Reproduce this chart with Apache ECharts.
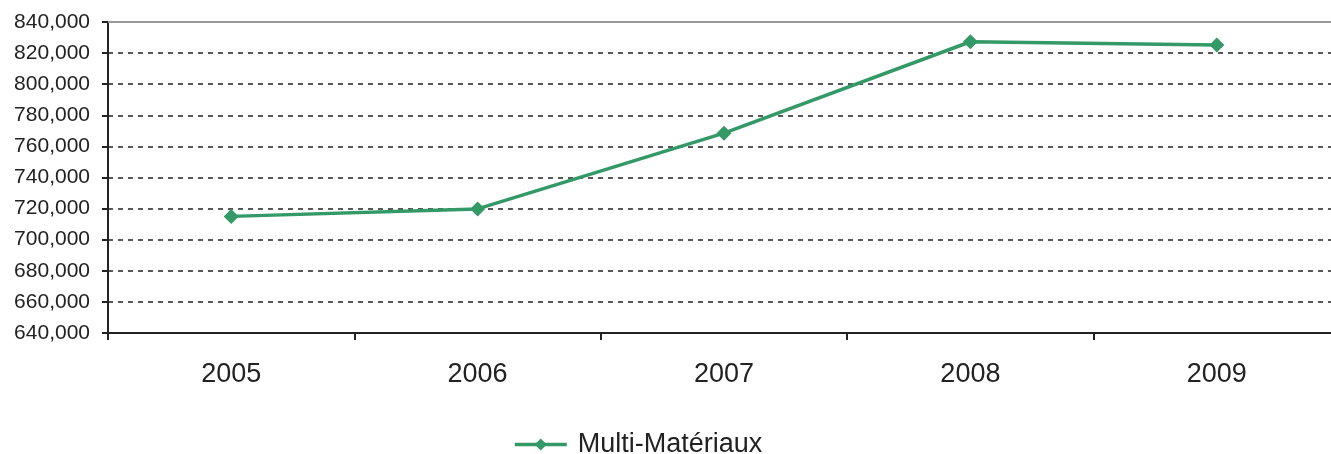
<!DOCTYPE html>
<html>
<head>
<meta charset="utf-8">
<script src="https://cdn.jsdelivr.net/npm/echarts@6/dist/echarts.min.js"></script>
<style>
  html, body { margin: 0; padding: 0; background: #fff; }
  #chart { width: 1331px; height: 454px; }
</style>
</head>
<body>
<div id="chart"></div>
<script>
// data
var years = ['2005', '2006', '2007', '2008', '2009'];
var multiMateriaux = [715000, 719800, 768500, 827300, 825200];
var seriesName = 'Multi-Matériaux';

var font = 'Liberation Sans, Arial, sans-serif';
var green = '#339966';

function thousands(v){
    return String(v).replace(/\B(?=(\d{3})+(?!\d))/g, ',');
}

var myChart = echarts.init(document.getElementById('chart'));
myChart.setOption({
    animation: false,
    backgroundColor: '#fff',
    grid: { left: 108, top: 22, width: 1232, height: 311, outerBoundsMode: 'none', containLabel: false },
    legend: {
        data: [seriesName],
        left: 508, top: 426,
        itemWidth: 52, itemHeight: 15,
        lineStyle: { width: 3.5 },
        textStyle: { fontFamily: font, fontSize: 27, color: '#222', padding: [0, 0, 0, 6] }
    },
    xAxis: [{
        type: 'category',
        data: years,
        boundaryGap: true,
        axisLine: { lineStyle: { color: '#222', width: 2 } },
        axisTick: { show: true, length: 7, lineStyle: { color: '#222', width: 2 } },
        axisLabel: { fontFamily: font, fontSize: 27, color: '#222', margin: 28 },
        splitLine: { show: false }
    }, {
        type: 'category',
        data: years,
        position: 'top',
        axisLine: { lineStyle: { color: '#999', width: 2 } },
        axisTick: { show: false },
        axisLabel: { show: false }
    }],
    yAxis: {
        type: 'value',
        min: 640000, max: 840000, interval: 20000,
        axisLine: { show: true, lineStyle: { color: '#222', width: 2 } },
        axisTick: { show: true, length: 6, lineStyle: { color: '#222', width: 2 } },
        axisLabel: { fontFamily: font, fontSize: 21, color: '#222', margin: 18, formatter: thousands },
        splitLine: { lineStyle: { color: '#222', type: [5, 5], width: 1.5 } }
    },
    series: [{
        name: seriesName,
        type: 'line',
        data: multiMateriaux,
        symbol: 'diamond',
        symbolSize: 15,
        itemStyle: { color: green },
        lineStyle: { color: green, width: 3.5 }
    }]
});
</script>
</body>
</html>
